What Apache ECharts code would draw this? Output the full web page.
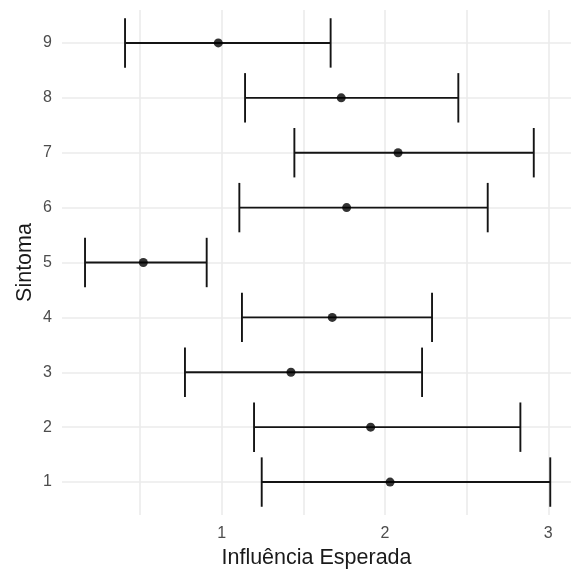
<!DOCTYPE html>
<html>
<head>
<meta charset="utf-8">
<style>
  html, body { margin: 0; padding: 0; background: #ffffff; }
  #chart { width: 571px; height: 570px; }
</style>
<script src="https://cdn.jsdelivr.net/npm/echarts@6/dist/echarts.min.js"></script>
</head>
<body>
<div id="chart"></div>
<script>
// Symptom ids and the expected influence with its interval
const sintoma = [1, 2, 3, 4, 5, 6, 7, 8, 9];
const estimativa = [2.031, 1.912, 1.424, 1.677, 0.520, 1.765, 2.080, 1.732, 0.979];
const limiteInferior = [1.245, 1.198, 0.775, 1.124, 0.163, 1.108, 1.445, 1.143, 0.408];
const limiteSuperior = [3.012, 2.829, 2.227, 2.288, 0.908, 2.629, 2.911, 2.449, 1.667];

// Tick positions
const xGridValues = [0.5, 1, 1.5, 2, 2.5, 3];
const xLabelValues = [1, 2, 3];
const yTickValues = [1, 2, 3, 4, 5, 6, 7, 8, 9];

const fontFamily = '"Liberation Sans", Arial, Helvetica, sans-serif';
const gridColor = '#ebebeb';
const inkColor = '#141414';

const barData = sintoma.map((s, i) => [s, limiteInferior[i], limiteSuperior[i]]);
const pointData = sintoma.map((s, i) => [estimativa[i], s]);

const chart = echarts.init(document.getElementById('chart'), null, { renderer: 'canvas' });

chart.setOption({
  backgroundColor: '#ffffff',
  animation: false,
  grid: {
    left: 62, right: 0, top: 10, bottom: 55,
    containLabel: false,
    outerBoundsMode: 'none'
  },
  xAxis: {
    type: 'value',
    min: 0.022,
    max: 3.139,
    name: 'Influência Esperada',
    nameLocation: 'middle',
    nameGap: 32,
    nameMoveOverlap: false,
    nameTextStyle: { fontFamily, fontSize: 21.5, color: '#1a1a1a' },
    axisLine: { show: false },
    axisTick: { show: false, customValues: xGridValues },
    axisLabel: {
      customValues: xLabelValues,
      margin: 11,
      fontFamily, fontSize: 16, color: '#4d4d4d',
      formatter: v => String(v)
    },
    splitLine: { show: true, lineStyle: { color: gridColor, width: 1.6 } }
  },
  yAxis: {
    type: 'value',
    min: 0.4,
    max: 9.6,
    name: 'Sintoma',
    nameLocation: 'middle',
    nameRotate: 90,
    nameGap: 26,
    nameMoveOverlap: false,
    nameTextStyle: { fontFamily, fontSize: 21.5, color: '#1a1a1a' },
    axisLine: { show: false },
    axisTick: { show: false, customValues: yTickValues },
    axisLabel: {
      customValues: yTickValues,
      margin: 10,
      fontFamily, fontSize: 16, color: '#4d4d4d',
      formatter: v => String(v)
    },
    splitLine: { show: true, lineStyle: { color: gridColor, width: 1.6 } }
  },
  series: [
    {
      type: 'custom',
      data: barData,
      encode: { x: [1, 2], y: 0 },
      renderItem: function (params, api) {
        const y = api.value(0);
        const lo = api.coord([api.value(1), y]);
        const hi = api.coord([api.value(2), y]);
        const half = api.size([0, 0.9])[1] / 2;
        const style = { stroke: inkColor, lineWidth: 1.9, fill: null };
        return {
          type: 'group',
          children: [
            { type: 'line', shape: { x1: lo[0], y1: lo[1], x2: hi[0], y2: hi[1] }, style },
            { type: 'line', shape: { x1: lo[0], y1: lo[1] - half, x2: lo[0], y2: lo[1] + half }, style },
            { type: 'line', shape: { x1: hi[0], y1: hi[1] - half, x2: hi[0], y2: hi[1] + half }, style }
          ]
        };
      },
      z: 2
    },
    {
      type: 'scatter',
      data: pointData,
      symbol: 'circle',
      symbolSize: 9,
      itemStyle: { color: '#000000' },
      z: 3
    }
  ]
});
</script>
</body>
</html>
